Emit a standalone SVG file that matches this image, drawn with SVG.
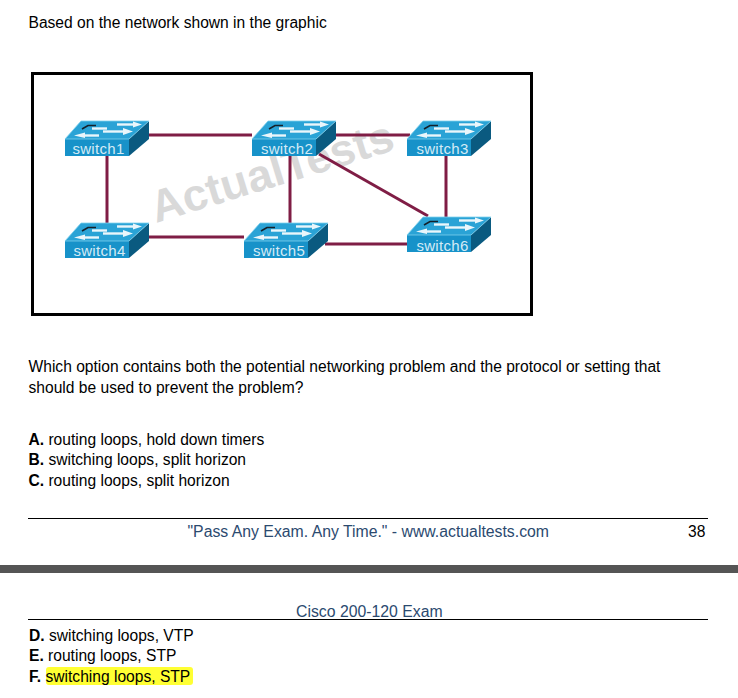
<svg xmlns="http://www.w3.org/2000/svg" width="738" height="698" viewBox="0 0 738 698">
<style>
text{font-family:"Liberation Sans",Arial,sans-serif}
.t{font-size:15.6px;fill:#000}
.b{font-weight:bold}
.f{font-size:15.8px;fill:#2b4a6f}
.rule{stroke:#000;stroke-width:1;fill:none}
.lnk{stroke:#7f1d45;stroke-width:3;fill:none}
.front{fill:#1792c9}
.top{fill:#2aa3d6}
.side{fill:#0a5a80}
.edge{fill:none;stroke:#7fd0ee;stroke-width:.8}
.arr{fill:#eaf6fb}
.sh{fill:none;stroke:#eaf6fb;stroke-width:2.4}
.blk{stroke:#14202a;stroke-width:1.6;fill:none}
.lab{font-size:15px;fill:#d4ebf6;text-anchor:middle;letter-spacing:.3px}
</style>
<defs>
<g id="sw">
<polygon class="top" points="0,18 16,0 84,0 64,18"/>
<polygon class="side" points="64,18 84,0 84,18 64,35"/>
<rect class="front" x="0" y="18" width="64" height="17"/>
<path class="edge" d="M0,18H64L84,0M0,18L16,0H84"/>
<path class="sh" d="M52,3.500H70"/><polygon class="arr" points="68,0.500 77,3.500 68,6.500"/>
<path class="sh" d="M38,10.500H60"/><polygon class="arr" points="58,7 68,10.500 58,14"/>
<path class="sh" d="M18,14.500H34"/><polygon class="arr" points="20,11.500 9,14.500 20,17"/>
<path class="sh" d="M27,7.500H42"/>
<path class="blk" d="M17,8L23,4.500H31"/>
</g>
</defs>
<rect width="738" height="698" fill="#fff"/>
<text class="t" x="28.500" y="28">Based on the network shown in the graphic</text>
<rect id="frame" x="32.500" y="73.500" width="499" height="241" fill="#fff" stroke="#000" stroke-width="3"/>
<text transform="translate(156,223) rotate(-17)" font-size="45" font-weight="bold" fill="#d9d9d9">ActualTests</text>
<g id="connectors">
<path class="lnk" d="M149,135H252"/>
<path class="lnk" d="M336,135H410"/>
<path class="lnk" d="M107,156V223"/>
<path class="lnk" d="M149,237H244"/>
<path class="lnk" d="M290,156V223"/>
<path class="lnk" d="M446,156V217"/>
<path class="lnk" d="M325,244H407"/>
<path class="lnk" d="M319,154L428,216"/>
</g>
<g id="switch1"><use href="#sw" x="65" y="121"/><text class="lab" x="98.500" y="154">switch1</text></g>
<g id="switch2"><use href="#sw" x="252" y="121"/><text class="lab" x="287" y="154">switch2</text></g>
<g id="switch3"><use href="#sw" x="407" y="121"/><text class="lab" x="442.500" y="154">switch3</text></g>
<g id="switch4"><use href="#sw" x="65" y="223"/><text class="lab" x="99.500" y="256">switch4</text></g>
<g id="switch5"><use href="#sw" x="244" y="223"/><text class="lab" x="279" y="256">switch5</text></g>
<g id="switch6"><use href="#sw" x="407" y="217"/><text class="lab" x="442.500" y="250.500">switch6</text></g>
<text class="t" x="28.500" y="372">Which option contains both the potential networking problem and the protocol or setting that</text>
<text class="t" x="28.500" y="393">should be used to prevent the problem?</text>
<text class="t" x="28.500" y="445"><tspan class="b">A.</tspan> routing loops, hold down timers</text>
<text class="t" x="28.500" y="465"><tspan class="b">B.</tspan> switching loops, split horizon</text>
<text class="t" x="28.500" y="486"><tspan class="b">C.</tspan> routing loops, split horizon</text>
<path class="rule" d="M28,518.500H708"/>
<text class="f" x="187.500" y="537">"Pass Any Exam. Any Time." - www.actualtests.com</text>
<text class="t" x="688" y="537">38</text>
<rect id="page-break" x="0" y="565" width="738" height="8" fill="#555"/>
<text class="f" x="296" y="617">Cisco 200-120 Exam</text>
<path class="rule" d="M28,619.500H708"/>
<text class="t" x="29" y="641"><tspan class="b">D.</tspan> switching loops, VTP</text>
<text class="t" x="29" y="661"><tspan class="b">E.</tspan> routing loops, STP</text>
<rect x="46" y="667" width="147" height="18" rx="3" fill="#ffff33"/>
<text class="t" x="29" y="682"><tspan class="b">F.</tspan> switching loops, STP</text>
</svg>
